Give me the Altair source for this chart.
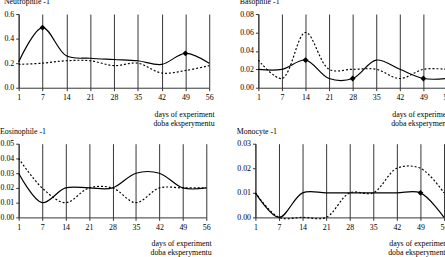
import altair as alt
import pandas as pd

days = ["1", "7", "14", "21", "28", "35", "42", "49", "56"]

neut_solid = [0.21, 0.49, 0.26, 0.24, 0.23, 0.22, 0.19, 0.28, 0.20]
neut_dash = [0.19, 0.20, 0.22, 0.22, 0.18, 0.20, 0.12, 0.14, 0.18]
neut_marks = ["7", "49"]

baso_solid = [0.02, 0.02, 0.03, 0.01, 0.01, 0.03, 0.02, 0.01, 0.01]
baso_dash = [0.03, 0.01, 0.06, 0.02, 0.02, 0.02, 0.01, 0.02, 0.02]
baso_marks = ["14", "28", "49"]

eos_solid = [0.03, 0.01, 0.02, 0.02, 0.02, 0.03, 0.03, 0.02, 0.02]
eos_dash = [0.04, 0.02, 0.01, 0.02, 0.02, 0.01, 0.02, 0.02, 0.02]
eos_marks = []

mono_solid = [0.01, 0.00, 0.01, 0.01, 0.01, 0.01, 0.01, 0.01, 0.00]
mono_dash = [0.01, 0.00, 0.00, 0.00, 0.01, 0.01, 0.02, 0.02, 0.01]
mono_marks = ["49"]

FONT = "Liberation Serif"


def panel(title, solid, dash, marks, ymax, ticks, fmt, width, height=75):
    df = pd.DataFrame({
        "day": days * 2,
        "value": solid + dash,
        "series": ["solid"] * len(days) + ["dash"] * len(days),
    })
    mk = pd.DataFrame({
        "day": [d for d in marks],
        "value": [solid[days.index(d)] for d in marks],
    })
    x = alt.X(
        "day:O", sort=days,
        scale=alt.Scale(type="point", padding=0),
        axis=alt.Axis(
            grid=True, gridColor="#333333", gridWidth=1,
            labelAngle=0, labelPadding=3, tickSize=3, tickColor="#333333",
            domainColor="#333333",
            title=["days of experiment", "doba eksperymentu"],
            titleAlign="right", titleBaseline="top",
            titleX=width + 5, titleY=23, titleLineHeight=9,
            titleFontWeight="normal",
        ),
    )
    y = alt.Y(
        "value:Q",
        scale=alt.Scale(domain=[0, ymax], nice=False),
        axis=alt.Axis(values=ticks, format=fmt, grid=False, title=None,
                      tickSize=3, labelPadding=2, domainColor="#333333",
                      tickColor="#333333"),
    )
    base = alt.Chart(df)
    solid_l = base.transform_filter(alt.datum.series == "solid").mark_line(
        interpolate="catmull-rom", color="black", strokeWidth=1.2
    ).encode(x=x, y=y)
    dash_l = base.transform_filter(alt.datum.series == "dash").mark_line(
        interpolate="catmull-rom", color="black", strokeWidth=1.2, strokeDash=[2, 2]
    ).encode(x=x, y=y)
    layers = [solid_l, dash_l]
    if len(marks):
        pts = alt.Chart(mk).mark_point(
            shape="diamond", filled=True, color="black", size=35, opacity=1
        ).encode(x=x, y=y)
        layers.append(pts)
    return alt.layer(*layers).properties(
        width=width, height=height,
        title=alt.TitleParams(title, anchor="start", frame="bounds", offset=4,
                              fontSize=8, font=FONT, fontWeight="normal"),
    )


p1 = panel("Neutrophile -1", neut_solid, neut_dash, neut_marks, 0.6,
           [0, 0.2, 0.4, 0.6], ".1f", 194)
p2 = panel("Basophile -1", baso_solid, baso_dash, baso_marks, 0.08,
           [0, 0.02, 0.04, 0.06, 0.08], ".2f", 192)
p3 = panel("Eosinophile -1", eos_solid, eos_dash, eos_marks, 0.05,
           [0, 0.01, 0.02, 0.03, 0.04, 0.05], ".2f", 191)
p4 = panel("Monocyte -1", mono_solid, mono_dash, mono_marks, 0.03,
           [0, 0.01, 0.02, 0.03], ".2f", 192)

row1 = alt.hconcat(p1, p2, spacing=26)
row2 = alt.hconcat(p3, p4, spacing=26)

chart = alt.vconcat(row1, row2, spacing=1).properties(
    padding={"left": 0, "top": -4, "right": -7, "bottom": -2},
    background="white",
).configure_view(stroke=None).configure_axis(
    labelFont=FONT, titleFont=FONT, labelFontSize=8, titleFontSize=8,
    labelColor="black", titleColor="black",
)

chart.save("out.html", embed_options={"renderer": "svg", "actions": False})
